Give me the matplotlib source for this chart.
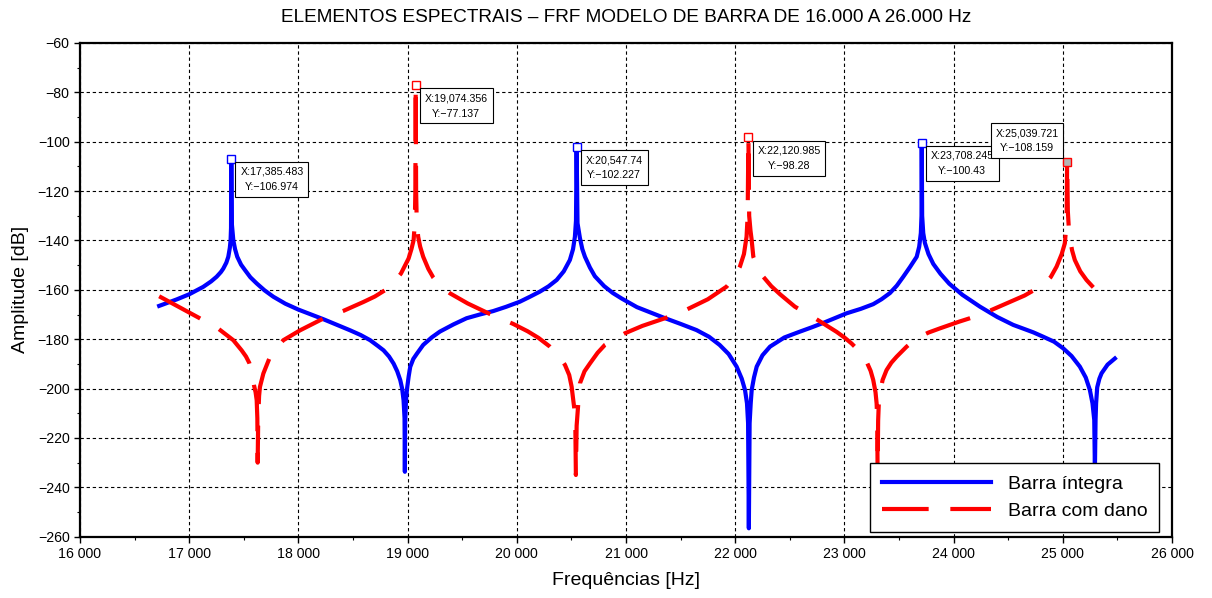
import matplotlib
matplotlib.use("Agg")
import matplotlib.pyplot as plt
from matplotlib.ticker import MultipleLocator, FuncFormatter

plt.rcParams['font.family'] = ['Liberation Sans', 'DejaVu Sans']

# ---- data ----
freq_integra = [16725, 16884, 17000, 17128, 17200, 17251, 17290, 17312, 17340, 17358, 17372, 17379, 17383,
                17385.483, 17390, 17404, 17420, 17440, 17475, 17511, 17560, 17618, 17690, 17771, 17880,
                18000, 18229, 18474, 18570, 18657, 18730, 18780, 18830, 18872, 18905, 18933, 18950, 18963,
                18972, 18975, 18978, 18985, 18995, 19010, 19024, 19052, 19086, 19143, 19220, 19296, 19420,
                19540, 19660, 19784, 19900, 20028, 20120, 20212, 20290, 20365, 20430, 20486, 20515, 20532,
                20542, 20547.74, 20556, 20578, 20600, 20624, 20670, 20715, 20800, 20880, 20960, 21100,
                21341, 21500, 21646, 21760, 21857, 21940, 22013, 22060, 22090, 22108, 22118, 22125, 22132,
                22142, 22151, 22172, 22197, 22250, 22319, 22450, 22594, 22700, 22806, 23020, 23150, 23264,
                23340, 23417, 23480, 23539, 23600, 23662, 23685, 23700, 23706, 23708.245, 23712, 23722,
                23737, 23770, 23814, 23880, 23960, 24080, 24241, 24400, 24546, 24729, 24821, 24920, 25004,
                25080, 25156, 25210, 25248, 25272, 25288, 25294, 25300, 25305, 25315, 25335, 25355, 25410,
                25477]
amp_integra = [-166.5, -163.9, -161.8, -158.8, -156.6, -154.7, -152.8, -151.4, -149.0, -146.6, -143.0, -139.9, -135.0,
               -106.974, -133.0, -139.9, -143.5, -146.6, -149.8, -152.0, -154.9, -157.4, -160.2, -162.8, -165.6,
               -168.0, -171.9, -176.4, -178.3, -180.4, -182.8, -184.5, -187.0, -189.9, -193.0, -196.6, -200.0, -204.7,
               -212.0, -233.7, -214.0, -205.0, -200.0, -195.0, -191.2, -188.0, -185.8, -182.3, -179.3, -176.9, -174.0,
               -171.5, -170.0, -168.6, -166.9, -164.8, -162.8, -160.7, -158.6, -156.0, -152.5, -147.9, -143.5, -138.5,
               -132.0, -102.227, -133.0, -139.0, -143.5, -146.6, -151.0, -154.5, -158.5, -161.3, -163.5, -167.0,
               -171.2, -173.8, -176.3, -179.0, -182.3, -186.0, -191.1, -196.0, -200.6, -206.0, -214.0, -256.6, -214.0,
               -206.0, -200.6, -195.5, -191.1, -186.5, -183.0, -179.3, -176.9, -175.2, -173.4, -169.5, -167.7, -165.8,
               -163.8, -161.3, -158.3, -154.7, -150.8, -146.6, -142.5, -137.0, -130.0, -100.43, -130.0, -137.0,
               -141.0, -145.5, -149.5, -153.5, -157.5, -162.0, -166.8, -171.0, -174.2, -177.2, -179.0, -181.0, -183.7,
               -186.8, -191.1, -195.5, -200.6, -206.0, -212.7, -233.0, -212.7, -206.0, -199.5, -196.0, -193.8, -190.3,
               -187.8]

freq_dano = [16725, 17092, 17266, 17404, 17480, 17520, 17550, 17575, 17593, 17608, 17618, 17624, 17627, 17632,
             17640, 17648, 17679, 17734, 17800, 17862, 18015, 18229, 18413, 18596, 18700, 18795, 18870, 18939,
             18980, 19009, 19035, 19055, 19066, 19071, 19074.356, 19078, 19084, 19097, 19115, 19143, 19190,
             19235, 19300, 19388, 19550, 19754, 19967, 20100, 20200, 20303, 20380, 20441, 20480, 20502, 20526,
             20536, 20541, 20548, 20556, 20563, 20578, 20620, 20670, 20740, 20807, 20900, 20990, 21150, 21356,
             21555, 21750, 21921, 21990, 22043, 22080, 22104, 22114, 22120.985, 22128, 22140, 22150, 22166,
             22210, 22257, 22330, 22411, 22546, 22730, 22928, 23000, 23065, 23140, 23203, 23240, 23264, 23285,
             23295, 23301, 23304, 23309, 23315, 23325, 23350, 23386, 23430, 23478, 23570, 23662, 23770, 23875,
             24050, 24241, 24454, 24650, 24821, 24890, 24943, 24990, 25019, 25030, 25036, 25039.721, 25046,
             25055, 25065, 25085, 25110, 25160, 25217, 25290, 25370]
amp_dano = [-162.6, -171.4, -175.7, -180.4, -184.5, -187.0, -189.6, -193.5, -198.6, -201.5, -204.7, -212.0, -230.0, -212.0,
            -203.0, -199.3, -193.9, -187.8, -183.5, -180.4, -176.4, -171.6, -168.5, -164.9, -162.7, -160.1, -157.2, -153.4,
            -149.8, -147.3, -143.5, -139.9, -133.0, -120.0, -77.137, -120.0, -133.0, -138.5, -142.5, -146.6, -151.5,
            -155.0, -158.5, -161.4, -165.5, -169.8, -173.8, -176.8, -179.5, -183.0, -186.5, -190.4, -194.5, -199.2, -207.9,
            -215.0, -235.0, -215.0, -210.0, -206.0, -197.9, -193.0, -189.8, -185.5, -182.3, -179.8, -177.6, -174.6, -171.5,
            -168.0, -163.8, -158.7, -155.0, -150.6, -145.5, -138.5, -130.0, -98.28, -130.0, -136.0, -139.5, -146.6,
            -151.5, -154.7, -158.5, -161.8, -166.8, -171.5, -177.0, -179.3, -181.7, -185.0, -189.1, -192.8, -196.5, -201.5,
            -206.0, -213.0, -235.0, -213.0, -206.0, -201.9, -196.5, -192.5, -189.5, -187.1, -183.0, -179.6, -177.3, -175.6,
            -172.9, -170.2, -166.1, -162.3, -158.0, -154.8, -150.6, -145.5, -141.1, -135.0, -128.0, -108.159, -128.0,
            -135.0, -139.0, -144.0, -147.9, -152.5, -156.0, -159.5, -162.3]

peaks_integra_x = [17385.483, 20547.74, 23708.245]
peaks_integra_y = [-106.974, -102.227, -100.43]
peaks_dano_x = [19074.356, 22120.985, 25039.721]
peaks_dano_y = [-77.137, -98.28, -108.159]

title = "ELEMENTOS ESPECTRAIS \u2013 FRF MODELO DE BARRA DE 16.000 A 26.000 Hz"
xlabel = "Frequências [Hz]"
ylabel = "Amplitude [dB]"
labels = ["Barra íntegra", "Barra com dano"]

# ---- figure ----
fig = plt.figure(figsize=(12.12, 5.98), dpi=100)
ax = fig.add_axes([80/1212, 1-536.7/598, 1092/1212, 493.7/598])

ax.plot(freq_integra, amp_integra, color='#0000FF', lw=3.0, label=labels[0], zorder=3,
        solid_joinstyle='round')
ax.plot(freq_dano, amp_dano, color='#FF0000', lw=3.0, label=labels[1], zorder=3,
        dashes=(11.2, 5.2), dash_capstyle='butt', dash_joinstyle='round')

ax.set_xlim(16000, 26000)
ax.set_ylim(-260, -60)
ax.xaxis.set_major_locator(MultipleLocator(1000))
ax.xaxis.set_minor_locator(MultipleLocator(500))
ax.yaxis.set_major_locator(MultipleLocator(20))
ax.yaxis.set_minor_locator(MultipleLocator(10))
ax.xaxis.set_major_formatter(FuncFormatter(lambda v, p: f"{int(round(v)):,}".replace(",", " ")))
ax.tick_params(axis='both', which='major', direction='out', length=4, width=1, labelsize=10.2,
               top=False, right=False, colors='black')
ax.tick_params(axis='both', which='minor', direction='out', length=2.5, width=0.8, top=False, right=False)
ax.grid(True, which='major', color='black', linestyle=(0, (3, 2.5)), linewidth=0.8)
for s in ax.spines.values():
    s.set_linewidth(1.6)
    s.set_color('black')

ax.set_xlabel(xlabel, fontsize=14, labelpad=8)
ax.set_ylabel(ylabel, fontsize=14, labelpad=6)
fig.text(0.5165, 1-17.5/598, title, ha='center', va='center', fontsize=13.7)

# data tips
ax.plot(peaks_integra_x, peaks_integra_y, linestyle='none', marker='s', ms=6, mfc='white',
        mec='#0000FF', mew=1.0, zorder=5)
mfcs = ['white', 'white', '#b4b4b4']
for x, y, fc in zip(peaks_dano_x, peaks_dano_y, mfcs):
    ax.plot([x], [y], linestyle='none', marker='s', ms=6, mfc=fc, mec='#FF0000', mew=1.0, zorder=5)

tips = sorted(list(zip(peaks_integra_x, peaks_integra_y)) + list(zip(peaks_dano_x, peaks_dano_y)))
for i, (x, y) in enumerate(tips):
    txt = f"X:{x:,.3f}".rstrip('0').rstrip('.') + "\n" + f"Y:{y:.3f}".rstrip('0').rstrip('.').replace('-', '\u2212')
    if i == len(tips) - 1:
        off, ha, va = (-8.5, 8.5), 'right', 'bottom'
    else:
        off, ha, va = (9, -8), 'left', 'top'
    ax.annotate(txt, xy=(x, y), xytext=off, textcoords='offset pixels', ha=ha, va=va,
                fontsize=7.7, linespacing=1.65, multialignment='center', zorder=6 + i,
                bbox=dict(boxstyle='square,pad=0.45', fc='white', ec='black', lw=0.8))

leg = ax.legend(loc='lower right', bbox_to_anchor=((1159.3-80)/1092, (536.7-531.7)/493.7),
                borderaxespad=0, fontsize=14, handlelength=5.6, handletextpad=0.9,
                labelspacing=0.5, borderpad=0.6, fancybox=False, framealpha=1, edgecolor='black')
leg.get_frame().set_linewidth(1.0)
leg.set_zorder(10)

fig.savefig("out.png", dpi=100)
